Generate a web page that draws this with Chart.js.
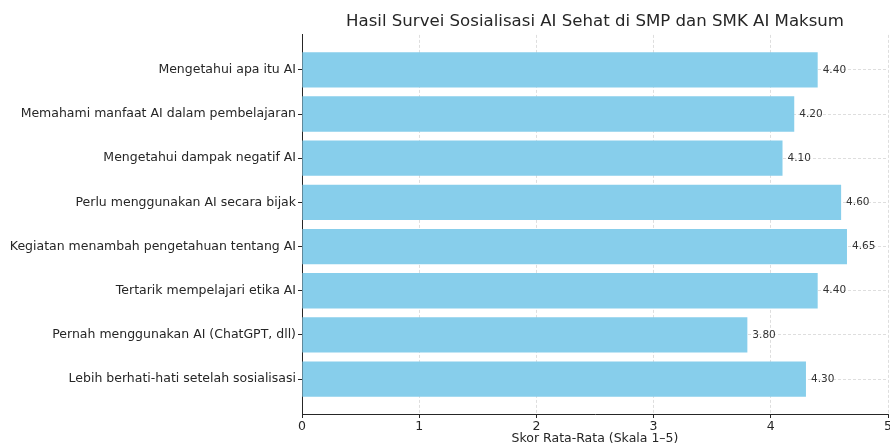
<!DOCTYPE html>
<html>
<head>
<meta charset="utf-8">
<script src="https://cdn.jsdelivr.net/npm/chart.js@4"></script>
<style>
  html, body { margin: 0; padding: 0; background: #ffffff; }
  #wrap { width: 890px; height: 446px; position: relative; }
</style>
</head>
<body>
<div id="wrap"><canvas id="c"></canvas></div>
<script>
const categories = [
  "Mengetahui apa itu AI",
  "Memahami manfaat AI dalam pembelajaran",
  "Mengetahui dampak negatif AI",
  "Perlu menggunakan AI secara bijak",
  "Kegiatan menambah pengetahuan tentang AI",
  "Tertarik mempelajari etika AI",
  "Pernah menggunakan AI (ChatGPT, dll)",
  "Lebih berhati-hati setelah sosialisasi"
];
const values = [4.40, 4.20, 4.10, 4.60, 4.65, 4.40, 3.80, 4.30];
const xTicks = [0, 1, 2, 3, 4, 5];
const chartTitle = "Hasil Survei Sosialisasi AI Sehat di SMP dan SMK AI Maksum";
const xTitle = "Skor Rata-Rata (Skala 1–5)";

const FONT = "'DejaVu Sans', 'Liberation Sans', sans-serif";
const TEXT = '#262626';
const GRID = 'rgba(150,150,150,0.4)';

const valueLabels = {
  id: 'valueLabels',
  afterDatasetsDraw(chart) {
    const ctx = chart.ctx;
    const meta = chart.getDatasetMeta(0);
    ctx.save();
    ctx.font = "10.5px " + FONT;
    ctx.fillStyle = '#333333';
    ctx.textAlign = 'left';
    ctx.textBaseline = 'middle';
    meta.data.forEach((el, i) => {
      ctx.fillText(values[i].toFixed(2), el.x + 5, el.y);
    });
    ctx.restore();
  }
};

new Chart(document.getElementById('c'), {
  type: 'bar',
  data: {
    datasets: [{
      data: values.map((v, i) => ({ x: v, y: i })),
      backgroundColor: '#87CEEB',
      borderWidth: 0,
      barPercentage: 0.8,
      categoryPercentage: 1.0
    }]
  },
  options: {
    indexAxis: 'y',
    responsive: true,
    maintainAspectRatio: false,
    animation: false,
    layout: { padding: { left: 0, right: 2, top: 0, bottom: 0 } },
    plugins: {
      legend: { display: false },
      tooltip: { enabled: false },
      title: {
        display: true,
        text: chartTitle,
        fullSize: false,
        color: TEXT,
        font: { family: FONT, size: 16.6, weight: 'normal' },
        padding: { top: 12, bottom: 3 }
      }
    },
    scales: {
      x: {
        type: 'linear',
        min: 0,
        max: 5,
        z: 1,
        afterBuildTicks(scale) { scale.ticks = xTicks.map(v => ({ value: v })); },
        afterFit(scale) { scale.height = 32; scale.paddingLeft = 0; scale.paddingRight = 0; },
        ticks: {
          color: TEXT,
          font: { family: FONT, size: 12.5 },
          padding: 1,
          maxRotation: 0,
          autoSkip: false
        },
        grid: {
          color: GRID,
          lineWidth: 0.8,
          drawTicks: true,
          tickLength: 4,
          tickColor: TEXT,
          tickBorderDash: [],
          tickWidth: 1
        },
        border: { display: true, color: TEXT, width: 1, dash: [3, 2] },
        title: {
          display: true,
          text: xTitle,
          color: TEXT,
          font: { family: FONT, size: 12.5 },
          padding: { top: 0, bottom: 0 }
        }
      },
      y: {
        type: 'linear',
        reverse: true,
        min: -0.79,
        max: 7.79,
        offset: false,
        z: 1,
        afterBuildTicks(scale) { scale.ticks = categories.map((_, i) => ({ value: i })); },
        afterFit(scale) { scale.width = 302; scale.paddingTop = 0; scale.paddingBottom = 0; },
        ticks: {
          color: TEXT,
          font: { family: FONT, size: 12.5 },
          padding: 2,
          autoSkip: false,
          callback(value) { return categories[value] !== undefined ? categories[value] : ''; }
        },
        grid: {
          offset: false,
          color: GRID,
          lineWidth: 0.8,
          drawTicks: true,
          tickLength: 4,
          tickColor: TEXT,
          tickBorderDash: [],
          tickWidth: 1
        },
        border: { display: true, color: TEXT, width: 1, dash: [3, 2] }
      }
    }
  },
  plugins: [valueLabels]
});
</script>
</body>
</html>
